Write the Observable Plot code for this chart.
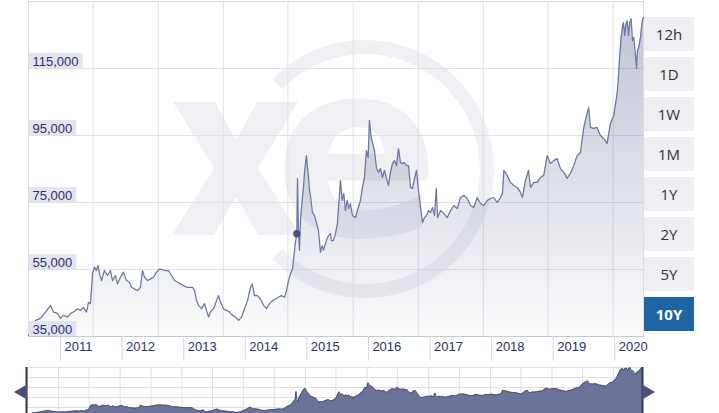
<!DOCTYPE html>
<html><head><meta charset="utf-8">
<script src="https://cdn.jsdelivr.net/npm/d3@7"></script>
<script src="https://cdn.jsdelivr.net/npm/@observablehq/plot@0.6"></script>
<style>
html,body{margin:0;padding:0;background:#fff;}
#wrap{position:relative;width:719px;height:413px;overflow:hidden;}
#main{position:absolute;left:0;top:0;}
#nav{position:absolute;left:0;top:360px;}
.btn{position:absolute;left:644px;width:50px;height:34px;background:#eeeef3;color:#333;font:15px "Open Sans",sans-serif;display:flex;align-items:center;justify-content:center;}
.btn.on{background:#1f65a6;color:#fff;font-weight:bold;}
</style></head><body><div id="wrap"><div id="main"></div><div id="nav"></div></div>
<script>
// time as decimal years
const times = [2010.480,2010.513,2010.545,2010.594,2010.675,2010.756,2010.838,2010.886,2010.951,2011.000,
2011.049,2011.114,2011.162,2011.211,2011.276,2011.325,2011.373,2011.422,2011.455,2011.487,
2011.520,2011.552,2011.585,2011.609,2011.633,2011.666,2011.714,2011.763,2011.812,2011.844,
2011.893,2011.925,2011.974,2012.023,2012.072,2012.120,2012.153,2012.201,2012.250,2012.299,
2012.331,2012.364,2012.413,2012.461,2012.510,2012.559,2012.607,2012.656,2012.705,2012.753,
2012.802,2012.851,2012.900,2012.948,2012.997,2013.046,2013.094,2013.143,2013.176,2013.208,
2013.241,2013.289,2013.338,2013.370,2013.403,2013.435,2013.484,2013.533,2013.565,2013.598,
2013.646,2013.695,2013.744,2013.793,2013.841,2013.890,2013.939,2013.987,2014.036,2014.085,
2014.112,2014.150,2014.198,2014.247,2014.296,2014.345,2014.393,2014.442,2014.491,2014.539,
2014.588,2014.637,2014.669,2014.702,2014.734,2014.767,2014.788,2014.811,2014.837,2014.848,
2014.864,2014.880,2014.897,2014.929,2014.945,2014.962,2014.978,2014.994,2015.010,2015.027,
2015.043,2015.059,2015.091,2015.124,2015.156,2015.189,2015.221,2015.237,2015.254,2015.270,
2015.319,2015.351,2015.384,2015.400,2015.432,2015.465,2015.497,2015.546,2015.573,2015.600,
2015.627,2015.655,2015.681,2015.708,2015.741,2015.790,2015.822,2015.871,2015.903,2015.936,
2015.968,2015.996,2016.017,2016.045,2016.071,2016.098,2016.131,2016.163,2016.196,2016.228,
2016.261,2016.293,2016.325,2016.358,2016.390,2016.423,2016.455,2016.488,2016.520,2016.553,
2016.585,2016.618,2016.650,2016.683,2016.715,2016.748,2016.780,2016.812,2016.845,2016.877,
2016.910,2016.942,2016.975,2017.007,2017.040,2017.072,2017.100,2017.121,2017.170,2017.223,
2017.279,2017.332,2017.386,2017.441,2017.494,2017.548,2017.603,2017.657,2017.710,2017.765,
2017.819,2017.873,2017.928,2017.981,2018.035,2018.090,2018.144,2018.176,2018.198,2018.253,
2018.306,2018.360,2018.415,2018.468,2018.501,2018.550,2018.598,2018.631,2018.685,2018.740,
2018.793,2018.847,2018.902,2018.956,2019.009,2019.064,2019.118,2019.172,2019.227,2019.280,
2019.334,2019.389,2019.443,2019.497,2019.552,2019.577,2019.605,2019.659,2019.714,2019.767,
2019.821,2019.876,2019.930,2019.984,2020.038,2020.051,2020.076,2020.103,2020.124,2020.141,
2020.162,2020.178,2020.201,2020.222,2020.243,2020.266,2020.287,2020.308,2020.336,2020.352,
2020.368,2020.389,2020.417,2020.438,2020.454,2020.466];
const values = [35300,36300,37400,39800,40400,42300,44300,42300,41900,40400,
41300,40800,41900,42300,43300,42800,43700,42300,45200,44800,
53700,55700,54700,56200,53800,51700,54700,53200,54700,51700,
53200,50700,52700,54200,51700,51200,49700,49200,48700,49700,
54700,52700,51700,52200,52700,54200,55200,54900,54700,54700,
53200,51700,51200,50700,50200,49700,49700,49700,48700,45700,
44300,43300,44800,42800,40800,42300,43300,45700,47200,45200,
43300,42800,42300,41300,40800,39800,40800,43300,45700,49700,
50700,47200,47200,46200,44300,43300,44800,45700,46200,46700,
47200,46700,48700,51700,53700,55200,58700,62700,65700,82200,
66000,60700,70000,76500,79500,84000,86600,89000,85500,82500,
78600,77000,72000,71100,69000,66600,60100,61600,62000,60700,
63700,65100,65700,63500,63700,65700,68700,81600,75600,77700,
72600,75600,73200,74700,71100,70500,72600,75600,79500,82500,
90500,88400,99500,94400,92600,90500,85400,84000,85100,82500,
84600,82200,80100,84000,86600,87500,86000,91100,86900,86600,
86900,86000,86000,79500,79200,82200,84600,78600,73500,69000,
70500,71100,72600,72000,73500,71100,79200,70500,72600,71700,
70500,72600,74100,73200,76500,77100,76200,74100,73500,76500,
74700,74100,75600,76200,76500,75000,76500,77700,84600,83100,
81000,80100,79500,78000,76500,81600,84600,79500,81000,81000,
82500,83100,89000,86600,87500,88100,85100,84000,82200,83700,
86000,89000,89900,97400,101600,103400,97400,97100,97400,95000,
94100,92600,98600,101000,107500,110000,117500,124300,127000,128700,
124900,127900,129300,124900,128700,129900,123400,124300,118900,115000,
120400,121300,124300,127900,129900,130200];
const highlightTime = 2014.837;
const highlightValue = 65700;
const yTicks = [35000, 55000, 75000, 95000, 115000];
const yDomain = [35000, 135000];
const xDomain = [2010.480, 2020.466];
const yearTicks = ["2011","2012","2013","2014","2015","2016","2017","2018","2019","2020"];
const gridTimes = [2011.531, 2012.586, 2013.642, 2014.691, 2015.753, 2016.808, 2017.863, 2018.918, 2019.974];
const buttons = ["12h","1D","1W","1M","1Y","2Y","5Y","10Y"];
const activeButton = "10Y";
const navTicks = [50000, 70000, 90000, 110000, 130000];
const navYDomain = [32000, 130200];

// decimal year -> Date
const T = t => {
  const y = Math.floor(t);
  const a = Date.UTC(y, 0, 1), b = Date.UTC(y + 1, 0, 1);
  return new Date(a + (t - y) * (b - a));
};
const data = times.map((t, i) => ({date: T(t), value: values[i]}));
const xDom = xDomain.map(T);
const years = yearTicks.map(y => new Date(Date.UTC(+y, 0, 1)));
const fmt = d3.format(",");
const FONT = '"Liberation Sans", Arial, sans-serif';
const NAVY = "#2c2f6e";

const main = Plot.plot({
  width: 719, height: 370,
  marginLeft: 28, marginRight: 76, marginTop: 1, marginBottom: 34,
  style: {fontFamily: FONT, fontSize: "13px", background: "transparent"},
  x: {type: "utc", domain: xDom},
  y: {domain: yDomain, axis: null},
  marks: [
    Plot.ruleY(yTicks.slice(1), {stroke: "#e0e0e6", strokeOpacity: 1}),
    Plot.ruleX(gridTimes.map(T), {stroke: "#e0e0e6", strokeOpacity: 1}),
    Plot.frame({stroke: "#dcdce2"}),
    Plot.areaY(data, {x: "date", y1: yDomain[0], y2: "value", fill: "url(#xeGrad)"}),
    Plot.lineY(data, {x: "date", y: "value", stroke: "#6e76a0", strokeWidth: 1.25}),
    Plot.ruleY([yDomain[0]], {stroke: "#c3c8dc", strokeOpacity: 1}),
    Plot.axisX({ticks: years, tickSize: 25, tickFormat: () => "", stroke: "#d2d6e6", strokeOpacity: 1}),
    Plot.axisX({ticks: years, tickSize: 0, tickPadding: 5, textAnchor: "start", dx: 4,
      tickFormat: d3.utcFormat("%Y"), fill: NAVY, fontSize: 13}),
    Plot.dot([{date: T(highlightTime), value: highlightValue}], {x: "date", y: "value", r: 3.6, fill: "#4a5079"}),
    Plot.text(yTicks, {y: d => d, text: d => fmt(d), frameAnchor: "left", textAnchor: "start",
      lineAnchor: "bottom", dx: 4, dy: -2.5, fill: NAVY, fontSize: 13})
  ]
});
document.getElementById("main").appendChild(main);

const NS = "http://www.w3.org/2000/svg";
const defs = document.createElementNS(NS, "defs");
defs.innerHTML = '<linearGradient id="xeGrad" x1="0" y1="0" x2="0" y2="1">' +
  '<stop offset="0" stop-color="#6b7399" stop-opacity="0.42"/>' +
  '<stop offset="1" stop-color="#6b7399" stop-opacity="0.03"/></linearGradient>';
main.insertBefore(defs, main.firstChild);

// XE watermark (decoration, behind grid)
const wm = document.createElementNS(NS, "g");
wm.setAttribute("fill", "#efeff4");
wm.innerHTML =
  '<path d="M173,102 L215,102 L236,140 L257,102 L298,102 L258,168 L300,235 L258,235 L236,197 L214,235 L172,235 L214,168 Z"/>' +
  '<text x="357" y="236" text-anchor="middle" font-family="DejaVu Sans" font-weight="bold" font-size="245">e</text>' +
  '<path d="M277.2,84.2 A122,122 0 1 1 277.2,253.8" fill="none" stroke="#efeff4" stroke-width="14"/>';
main.insertBefore(wm, main.querySelector("g"));

// label boxes behind y tick labels
const ySc = main.scale("y");
const textGroups = main.querySelectorAll('g[aria-label="text"]');
const lbl = textGroups[textGroups.length - 1];
if (lbl) {
  const sr = main.getBoundingClientRect();
  const boxes = document.createElementNS(NS, "g");
  lbl.querySelectorAll("text").forEach((t, i) => {
    const b = t.getBoundingClientRect();
    const yy = ySc.apply(yTicks[i]);
    const r = document.createElementNS(NS, "rect");
    r.setAttribute("x", 29);
    r.setAttribute("y", yy - 15);
    r.setAttribute("width", Math.max(10, b.right - sr.left + 4 - 29));
    r.setAttribute("height", 15);
    r.setAttribute("fill", "#e4e4ee");
    boxes.appendChild(r);
  });
  main.insertBefore(boxes, lbl);
}

// navigator
const nav = Plot.plot({
  width: 719, height: 56,
  marginLeft: 26, marginRight: 77, marginTop: 7, marginBottom: 0,
  style: {background: "transparent"},
  x: {type: "utc", domain: xDom, axis: null},
  y: {domain: navYDomain, axis: null},
  marks: [
    Plot.ruleY(navTicks, {stroke: "#dedee2", strokeOpacity: 1}),
    Plot.ruleX(d3.utcMonth.every(6).range(xDom[0], xDom[1]), {stroke: "#dedee2", strokeOpacity: 1}),
    Plot.areaY(data, {x: "date", y1: navYDomain[0], y2: "value", fill: "#6b7399", clip: true}),
    Plot.lineY(data, {x: "date", y: "value", stroke: "#4a5180", strokeWidth: 1, clip: true}),
    Plot.ruleX(xDom, {stroke: "#2f3659", strokeWidth: 2, strokeOpacity: 1}),
    Plot.dot(xDom, {x: d => d, frameAnchor: "middle", symbol: "triangle", r: 5.5,
      rotate: (d, i) => i ? 90 : -90, fill: "#4d5378", stroke: "none"})
  ]
});
document.getElementById("nav").appendChild(nav);
nav.querySelectorAll('g[aria-label="dot"] path').forEach(p => {
  const tr = p.getAttribute("transform") || "";
  p.setAttribute("transform", tr + " translate(0,-4)");
});

// range selector buttons
const wrap = document.getElementById("wrap");
buttons.forEach((b, i) => {
  const el = document.createElement("div");
  el.className = "btn" + (b === activeButton ? " on" : "");
  el.style.top = (17 + i * 40) + "px";
  el.textContent = b;
  wrap.appendChild(el);
});
</script></body></html>
